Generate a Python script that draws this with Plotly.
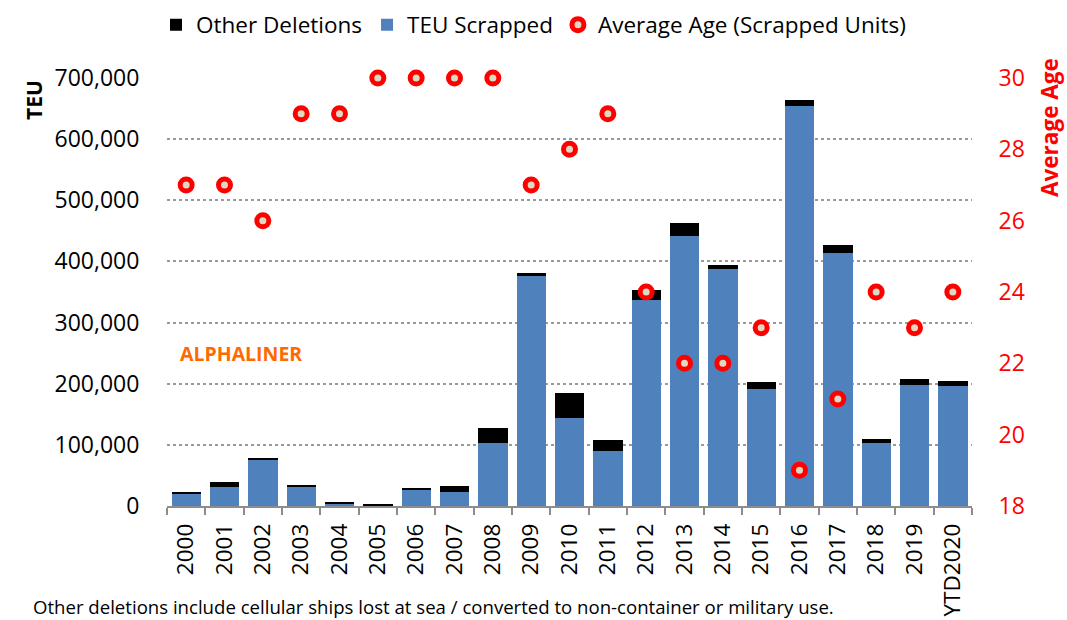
import plotly.graph_objects as go

years = ["2000", "2001", "2002", "2003", "2004", "2005", "2006", "2007", "2008", "2009",
         "2010", "2011", "2012", "2013", "2014", "2015", "2016", "2017", "2018", "2019", "YTD2020"]
teu_scrapped = [20000, 31000, 75000, 31500, 3500, 1500, 26500, 23000, 103000, 376000,
                144000, 90000, 337000, 442000, 388000, 192000, 655000, 413500, 103000, 198500, 196500]
other_deletions = [3000, 9000, 3500, 1500, 1500, 1500, 2500, 10000, 24000, 5000,
                   41500, 17500, 16000, 21500, 6500, 10500, 9000, 13500, 6500, 8500, 8500]
avg_age = [27, 27, 26, 29, 29, 30, 30, 30, 30, 27, 28, 29, 24, 22, 22, 23, 19, 21, 24, 23, 24]

FONT = "Open Sans, Liberation Sans, Arial, sans-serif"

fig = go.Figure()
fig.add_trace(go.Bar(x=years, y=teu_scrapped, name="TEU Scrapped",
                     marker=dict(color="#4F81BD", line=dict(width=0)), legendrank=2))
fig.add_trace(go.Bar(x=years, y=other_deletions, name="Other Deletions",
                     marker=dict(color="#000000", line=dict(width=0)), legendrank=1))
fig.add_trace(go.Scatter(x=years, y=avg_age, name="Average Age (Scrapped Units)", mode="markers",
                         yaxis="y2", cliponaxis=False, legendrank=3,
                         marker=dict(size=12, color="#DDD9C3", line=dict(color="#FF0000", width=5))))

W, H = 1067, 620
L, R, T, B = 167, 972, 78, 506
pw, ph = R - L, B - T

def px(x):
    return (x - L) / pw

def py(y):
    return (B - y) / ph

fig.update_layout(
    width=W, height=H,
    margin=dict(l=L, r=W - R, t=T, b=H - B, autoexpand=False),
    paper_bgcolor="white", plot_bgcolor="white",
    barmode="stack", bargap=0.235,
    font=dict(family=FONT, color="black"),
    showlegend=True,
    legend=dict(orientation="h", x=0.5, xanchor="center", xref="container",
                y=1 - 25 / H, yanchor="middle", yref="container",
                font=dict(size=22.5, family=FONT), traceorder="normal", itemwidth=30,
                bgcolor="rgba(0,0,0,0)"),
    xaxis=dict(type="category", range=[-0.5, len(years) - 0.5], autorange=False,
               showline=True, linecolor="#8C8C8C", linewidth=1.5, automargin=False,
               ticks="outside", tickson="boundaries", ticklen=7, tickcolor="#8C8C8C", tickwidth=1.5,
               ticklabelstandoff=7,
               tickangle=-90, tickfont=dict(size=22.5, family=FONT), showgrid=False),
    yaxis=dict(range=[0, 700000], dtick=100000, tickformat=",", showgrid=True, automargin=False,
               gridcolor="#9A9A9A", griddash="dot", gridwidth=1.5, zeroline=False,
               showline=False, ticks="outside", ticklen=22, tickcolor="rgba(0,0,0,0)",
               tickfont=dict(size=23, family=FONT)),
    yaxis2=dict(range=[18, 30], tickvals=[18, 20, 22, 24, 26, 28, 30], overlaying="y", side="right",
                showgrid=False, zeroline=False, showline=False, ticks="outside", ticklen=21, automargin=False,
                tickcolor="rgba(0,0,0,0)", tickfont=dict(size=23, color="#FF0000", family=FONT)),
    annotations=[
        dict(text="<b>TEU</b>", xref="paper", yref="paper", x=px(34), y=py(100), textangle=-90,
             xanchor="center", yanchor="middle",
             showarrow=False, font=dict(size=21, family=FONT, color="black")),
        dict(text="<b>Average Age</b>", xref="paper", yref="paper", x=px(1050), y=py(128), textangle=-90,
             xanchor="center", yanchor="middle",
             showarrow=False, font=dict(size=22.5, family=FONT, color="#FF0000")),
        dict(text="<b>ALPHALINER</b>", xref="paper", yref="paper", x=px(178), y=py(353),
             xanchor="left", yanchor="middle",
             showarrow=False, font=dict(size=19.5, family=FONT, color="#FF6A00")),
        dict(text="Other deletions include cellular ships lost at sea / converted to non-container or military use.",
             xref="paper", yref="paper", x=px(31), y=py(606), xanchor="left", yanchor="middle", showarrow=False,
             font=dict(size=18.6, family=FONT, color="black")),
    ],
)

fig.write_html("out.html", config={"displayModeBar": False},
               post_script="document.body.style.margin='0px';")
